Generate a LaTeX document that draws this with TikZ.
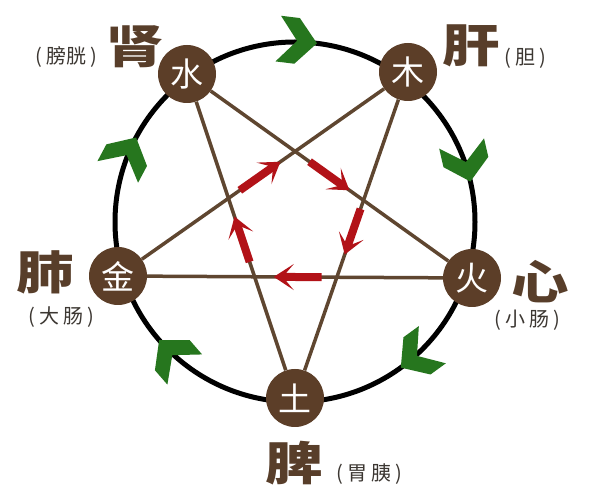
\documentclass[tikz,border=0pt]{standalone}
\usepackage{fontspec}
\usepackage{graphicx}
\newfontfamily\cjk{Noto Sans CJK SC}
\usetikzlibrary{arrows.meta,calc,backgrounds}
\definecolor{nodebrown}{RGB}{92,62,40}
\definecolor{linebrown}{RGB}{95,70,48}
\definecolor{txtbrown}{RGB}{88,62,42}
\definecolor{arrred}{RGB}{178,18,24}
\definecolor{chevgreen}{RGB}{38,118,30}
\definecolor{smallgray}{RGB}{60,55,50}
\newcommand\organtxt[1]{\scalebox{1.25}[1]{#1}}
\newcommand\gp{\hspace{4pt}}
\begin{document}
\begin{tikzpicture}[x=1pt,y=-1pt,
  element/.style={circle,fill=nodebrown,minimum size=58pt,inner sep=0pt,text=white,font=\cjk\fontsize{33}{33}\selectfont},
  organ/.style={text=txtbrown,font=\cjk\bfseries\fontsize{46}{46}\selectfont,inner sep=0pt},
  fu/.style={text=smallgray,font=\cjk\fontsize{20}{20}\selectfont,inner sep=0pt},
  starline/.style={draw=linebrown,line width=3.5pt},
  ke/.style={draw=arrred,line width=8pt,-{Stealth[length=20pt,width=26pt,inset=11pt]}},
  ring/.style={draw=black,line width=5pt},
  chev/.pic={\fill[chevgreen] (0,0) -- (-20,-23) -- (-39,-23) -- (-20,0) -- (-39,23) -- (-20,23) -- cycle;}
]
\useasboundingbox (0,0) rectangle (600,502);
\coordinate (ctr) at (295,222);

% elements
\node[element] (shui) at (187,74) {水};
\node[element] (mu) at (408,72) {木};
\node[element] (huo) at (472,278) {火};
\node[element] (tu) at (295,398) {土};
\node[element] (jin) at (118,276) {金};

\begin{scope}[on background layer]
  \fill[white] (0,0) rectangle (600,502);
  \draw[ring] (ctr) circle[radius=180];
  \draw[starline] (shui) -- (huo);
  \draw[starline] (shui) -- (tu);
  \draw[starline] (mu) -- (jin);
  \draw[starline] (mu) -- (tu);
  \draw[starline] (jin) -- (huo);
\end{scope}

% restraining cycle (red)
\draw[ke] ($(jin)!0.42!(mu)$) -- ($(jin)!0.56!(mu)$);
\draw[ke] ($(mu)!0.42!(tu)$) -- ($(mu)!0.56!(tu)$);
\draw[ke] ($(tu)!0.42!(shui)$) -- ($(tu)!0.56!(shui)$);
\draw[ke] ($(shui)!0.43!(huo)$) -- ($(shui)!0.57!(huo)$);
\draw[ke] ($(huo)!0.425!(jin)$) -- ($(huo)!0.56!(jin)$);

% generating cycle (green chevrons)
\pic[rotate=-7] at ($(ctr)+(-83:180)$) {chev};
\pic[rotate=-77] at ($(ctr)+(-13:180)$) {chev};
\pic[rotate=-144] at ($(ctr)+(54:180)$) {chev};
\pic[rotate=-229] at ($(ctr)+(139:180)$) {chev};
\pic[rotate=-298] at ($(ctr)+(208:180)$) {chev};

% organ labels
\node[organ] (shen) at (135,47) {\organtxt{肾}};
\node[organ] (gan) at (471,46) {\organtxt{肝}};
\node[organ] (fei) at (45,272) {\organtxt{肺}};
\node[organ] (xin) at (540,282) {\organtxt{心}};
\node[organ] (pi) at (294,463) {\organtxt{脾}};

\node[fu] (pangguang) at (66,57) {(\gp 膀胱\gp)};
\node[fu] (dan) at (525,58) {(\gp 胆\gp)};
\node[fu] (dachang) at (61,317) {(\gp 大\gp 肠\gp)};
\node[fu] (xiaochang) at (527,320) {(\gp 小\gp 肠\gp)};
\node[fu] (weiyi) at (369,474) {(\gp 胃\gp 胰\gp)};
\end{tikzpicture}
\end{document}
